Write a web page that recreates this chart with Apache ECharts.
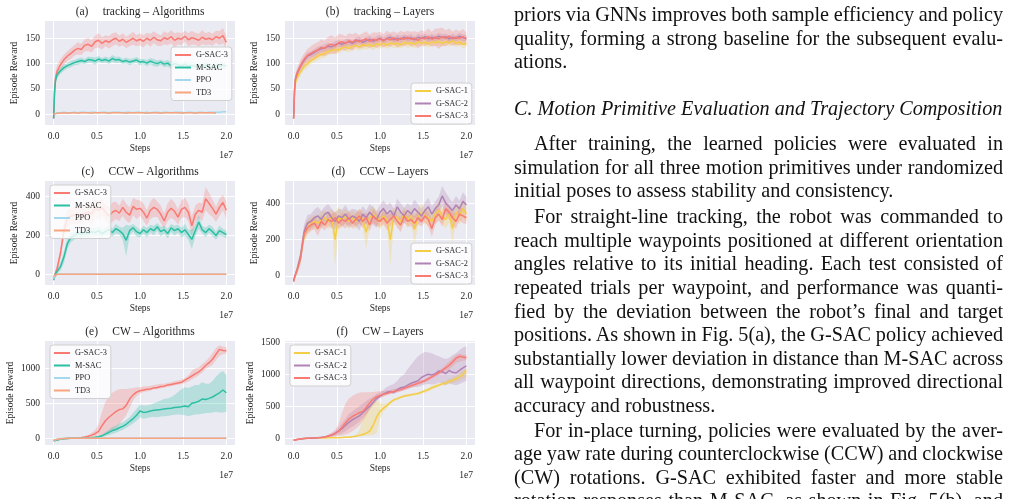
<!DOCTYPE html>
<html>
<head>
<meta charset="utf-8">
<script src="https://cdn.jsdelivr.net/npm/echarts@6.0.0/dist/echarts.min.js"></script>
<style>
  html, body { margin: 0; padding: 0; background: #ffffff; }
  #wrap { position: relative; width: 1011px; height: 499px; overflow: hidden; background: #fff; }
  #chart { position: absolute; left: 0; top: 0; width: 1011px; height: 499px; }
  .ln { position: absolute; left: 514px; width: 489px; height: 24px; line-height: 24px;
        font-family: "Liberation Serif", "Times New Roman", serif; font-size: 20.2px; color: #111;
        overflow: hidden; white-space: normal; }
  .j { text-align: justify; text-align-last: justify; word-spacing: -2.5px; }
  .l { text-align: left; white-space: nowrap; }
  .ind { text-indent: 20px; }
  .it { font-style: italic; }
</style>
</head>
<body>
<div id="wrap">
  <div id="chart"></div>
  <div id="prose"></div>
</div>
<script>
// ---------------- data ----------------
const STEPS = [
  0, 0.01, 0.02, 0.04, 0.08, 0.12, 0.16, 0.20, 0.24, 0.28,
  0.32, 0.36, 0.40, 0.44, 0.48, 0.52, 0.56, 0.60, 0.64, 0.68,
  0.72, 0.76, 0.80, 0.84, 0.88, 0.92, 0.96, 1.00, 1.04, 1.08,
  1.12, 1.16, 1.20, 1.24, 1.28, 1.32, 1.36, 1.40, 1.44, 1.48,
  1.52, 1.56, 1.60, 1.64, 1.68, 1.72, 1.76, 1.80, 1.84, 1.88,
  1.92, 1.96, 2.00];

const X_TICKS = [0, 0.5, 1.0, 1.5, 2.0];
const AB_YTICKS = [0, 50, 100, 150];
const CD_YTICKS = [0, 200, 400];
const E_YTICKS = [0, 500, 1000];
const F_YTICKS = [0, 500, 1000, 1500];

// (a) tracking – Algorithms
const A_GSAC3 = [
  -8, 45, 70, 85, 98, 108, 115, 120, 126, 130,
  128, 136, 138, 134, 143, 146, 140, 145, 142, 147,
  150, 144, 148, 142, 146, 150, 145, 148, 144, 150,
  146, 152, 147, 145, 151, 148, 153, 146, 150, 148,
  154, 147, 151, 149, 146, 152, 148, 150, 147, 153,
  150, 155, 142];
const A_GSAC3_SD = [
  2, 10, 12, 12, 11, 10, 10, 11, 10, 12,
  11, 12, 13, 12, 12, 14, 12, 11, 12, 13,
  12, 11, 12, 11, 12, 13, 11, 12, 12, 11,
  13, 12, 12, 11, 13, 12, 13, 14, 12, 12,
  11, 13, 14, 12, 13, 14, 12, 13, 12, 12,
  14, 15, 12];
const A_MSAC = [
  -8, 40, 65, 78, 86, 92, 96, 99, 102, 104,
  106, 104, 108, 107, 105, 109, 106, 108, 105, 110,
  107, 108, 104, 106, 103, 105, 107, 103, 104, 101,
  105, 102, 100, 103, 99, 101, 96, 100, 98, 96,
  99, 95, 97, 94, 96, 93, 97, 95, 92, 96,
  94, 97, 95];
const A_MSAC_SD = [
  2, 8, 8, 7, 6, 6, 5, 6, 5, 6,
  6, 5, 6, 6, 7, 6, 5, 6, 6, 7,
  6, 6, 5, 6, 6, 5, 6, 6, 5, 6,
  6, 7, 6, 5, 6, 6, 7, 6, 6, 5,
  6, 7, 6, 6, 5, 6, 7, 6, 6, 5,
  6, 7, 6];
const A_PPO = [
  0, 2, 3, 3, 3, 4, 3, 3, 4, 3,
  4, 4, 3, 4, 4, 3, 4, 4, 3, 4,
  4, 4, 3, 4, 4, 3, 4, 4, 3, 4,
  3, 4, 4, 3, 4, 4, 3, 4, 4, 4,
  3, 4, 4, 3, 4, 4, 3, 4, 4, 4,
  4, 5, 5];
const A_TD3 = [
  0, 1, 2, 2, 2, 3, 2, 3, 3, 2,
  3, 3, 3, 2, 3, 3, 3, 3, 2, 3,
  3, 3, 3, 2, 3, 3, 3, 3, 3, 2,
  3, 3, 3, 2, 3, 3, 3, 3, 3, 2,
  3, 3, 3, 2, 3, 3, 3, 3, 3, 2];

// (b) tracking – Layers
const B_GSAC1 = [
  -8, 40, 62, 72, 84, 94, 100, 106, 110, 115,
  118, 120, 124, 126, 128, 127, 131, 133, 130, 134,
  136, 133, 137, 135, 138, 134, 139, 137, 140, 136,
  141, 138, 140, 137, 142, 139, 141, 138, 143, 140,
  142, 139, 143, 141, 144, 140, 143, 141, 145, 140,
  143, 138, 140];
const B_GSAC1_SD = [
  2, 8, 8, 8, 8, 7, 8, 7, 7, 8,
  7, 8, 7, 7, 8, 7, 7, 8, 7, 8,
  7, 7, 8, 7, 7, 8, 7, 8, 7, 7,
  8, 7, 8, 7, 7, 8, 7, 8, 7, 7,
  8, 7, 8, 7, 8, 7, 7, 8, 7, 8,
  7, 8, 7];
const B_GSAC2 = [
  -8, 45, 68, 80, 95, 106, 115, 118, 122, 126,
  129, 131, 134, 133, 137, 140, 138, 141, 143, 140,
  144, 146, 142, 145, 148, 144, 147, 150, 146, 149,
  152, 147, 150, 148, 152, 149, 151, 147, 152, 150,
  153, 149, 152, 150, 154, 151, 153, 149, 152, 150,
  154, 151, 150];
const B_GSAC2_SD = [
  2, 8, 8, 7, 7, 7, 7, 6, 7, 7,
  6, 7, 7, 6, 7, 7, 6, 7, 7, 6,
  7, 7, 6, 7, 7, 6, 7, 7, 6, 7,
  7, 6, 7, 7, 6, 7, 7, 6, 7, 7,
  6, 7, 7, 6, 7, 7, 6, 7, 7, 6,
  7, 7, 6];
const B_GSAC3 = [
  -8, 48, 70, 82, 96, 108, 116, 120, 124, 127,
  132, 130, 136, 138, 135, 141, 143, 140, 145, 142,
  147, 143, 146, 149, 144, 148, 146, 149, 145, 150,
  147, 151, 146, 150, 148, 152, 148, 150, 146, 151,
  149, 153, 148, 152, 149, 153, 150, 154, 149, 152,
  150, 153, 148];
const B_GSAC3_SD = [
  2, 10, 10, 10, 12, 12, 13, 14, 15, 15,
  16, 15, 17, 18, 16, 17, 15, 14, 15, 16,
  14, 13, 14, 15, 13, 14, 15, 14, 13, 15,
  14, 13, 14, 15, 14, 13, 15, 14, 16, 15,
  14, 16, 15, 17, 20, 18, 16, 15, 14, 15,
  14, 15, 13];

// (c) CCW – Algorithms
const C_GSAC3 = [
  -30, -10, 5, 30, 110, 230, 290, 300, 305, 310,
  300, 315, 320, 310, 340, 330, 345, 320, 300, 320,
  330, 315, 345, 320, 305, 350, 335, 340, 320, 290,
  330, 345, 335, 310, 275, 320, 340, 325, 295, 335,
  345, 320, 250, 310, 330, 320, 390, 365, 340, 310,
  345, 370, 330];
const C_GSAC3_SD = [
  5, 10, 15, 20, 30, 40, 45, 40, 45, 50,
  45, 40, 45, 50, 45, 50, 45, 40, 45, 50,
  45, 40, 45, 45, 40, 45, 50, 40, 45, 40,
  45, 50, 40, 45, 40, 45, 50, 45, 40, 45,
  50, 45, 50, 45, 40, 45, 60, 55, 45, 40,
  45, 40, 45];
const C_MSAC = [
  -30, -15, 0, 15, 40, 90, 160, 190, 200, 210,
  205, 215, 210, 220, 215, 225, 210, 220, 230, 215,
  235, 225, 210, 175, 225, 240, 220, 210, 230, 215,
  235, 225, 245, 220, 230, 210, 240, 225, 235, 215,
  230, 205, 180, 225, 270, 230, 215, 235, 220, 200,
  225, 215, 205];
const C_MSAC_SD = [
  5, 8, 10, 12, 20, 30, 30, 25, 20, 20,
  25, 20, 20, 25, 20, 25, 20, 20, 25, 20,
  25, 20, 30, 80, 25, 20, 25, 20, 20, 25,
  20, 25, 20, 25, 20, 25, 20, 25, 20, 25,
  30, 25, 50, 30, 35, 20, 25, 20, 25, 20,
  25, 20, 20];
const C_PPO = [
  -25, -10, -3, 0, 0, 0, 0, 0, 0, 0,
  0, 0, 0, 0, 0, 0, 0, 0, 0, 0,
  0, 0, 0, 0, 0, 0, 0, 0, 0, 0,
  0, 0, 0, 0, 0, 0, 0, 0, 0, 0,
  0, 0, 0, 0, 0, 0, 0, 0, 0, 0,
  0, 0, 0];
const C_TD3 = [
  -10, -3, 0, 0, 0, 0, 0, 0, 0, 0,
  0, 0, 0, 0, 0, 0, 0, 0, 0, 0,
  0, 0, 0, 0, 0, 0, 0, 0, 0, 0,
  0, 0, 0, 0, 0, 0, 0, 0, 0, 0,
  0, 0, 0, 0, 0, 0, 0, 0, 0, 0,
  0, 0, 0];

// (d) CCW – Layers
const D_GSAC1 = [
  -30, -10, 5, 30, 100, 220, 270, 285, 300, 290,
  310, 320, 300, 330, 200, 320, 310, 330, 300, 320,
  300, 330, 310, 240, 320, 340, 320, 300, 330, 310,
  200, 330, 320, 300, 340, 310, 330, 260, 320, 350,
  330, 320, 300, 340, 360, 330, 310, 340, 260, 350,
  330, 370, 340];
const D_GSAC1_SD = [
  5, 10, 15, 20, 30, 40, 40, 40, 35, 40,
  45, 40, 45, 40, 150, 60, 45, 40, 45, 40,
  45, 40, 45, 90, 50, 45, 40, 45, 50, 40,
  140, 50, 40, 45, 40, 45, 40, 80, 45, 50,
  40, 45, 50, 45, 50, 45, 50, 45, 80, 50,
  45, 50, 45];
const D_GSAC2 = [
  -30, -8, 8, 35, 110, 240, 290, 300, 320, 330,
  310, 340, 350, 320, 300, 330, 320, 340, 310, 330,
  320, 300, 340, 320, 350, 330, 310, 350, 370, 340,
  360, 330, 380, 350, 330, 360, 340, 370, 350, 330,
  360, 380, 340, 370, 390, 440, 400, 380, 360, 390,
  370, 410, 390];
const D_GSAC2_SD = [
  5, 10, 15, 20, 30, 40, 45, 40, 45, 50,
  45, 40, 45, 50, 45, 40, 45, 50, 45, 40,
  45, 50, 45, 40, 45, 50, 45, 40, 45, 50,
  45, 40, 45, 50, 45, 40, 45, 50, 45, 40,
  45, 50, 45, 40, 45, 55, 60, 50, 45, 50,
  45, 50, 45];
const D_GSAC3 = [
  -30, -10, 5, 30, 95, 230, 265, 280, 290, 260,
  300, 280, 310, 300, 320, 290, 310, 300, 320, 290,
  310, 330, 300, 320, 280, 330, 310, 300, 320, 290,
  310, 330, 300, 280, 330, 300, 310, 290, 320, 300,
  330, 310, 260, 320, 340, 310, 370, 350, 320, 300,
  340, 330, 320];
const D_GSAC3_SD = [
  5, 10, 15, 20, 30, 35, 35, 30, 35, 40,
  35, 30, 35, 40, 35, 30, 35, 40, 35, 30,
  35, 40, 35, 30, 35, 40, 35, 30, 35, 40,
  35, 30, 35, 40, 35, 30, 35, 40, 35, 30,
  35, 40, 45, 40, 35, 40, 45, 40, 35, 40,
  35, 40, 35];

// (e) CW – Algorithms
const E_GSAC3 = [
  -30, -28, -25, -20, -10, -5, 0, 2, 5, 8,
  12, 18, 30, 45, 65, 100, 180, 250, 300, 340,
  380, 410, 420, 470, 560, 620, 660, 680, 690, 700,
  705, 720, 725, 740, 745, 760, 770, 780, 790, 800,
  830, 860, 890, 920, 950, 990, 1040, 1080, 1130, 1200,
  1270, 1255, 1250];
const E_GSAC3_LO = [
  -30, -28, -25, -20, -12, -7, -2, 0, 2, 4,
  6, 10, 15, 20, 28, 35, 45, 60, 80, 110,
  150, 200, 260, 330, 430, 540, 600, 640, 660, 670,
  680, 700, 700, 715, 720, 735, 745, 755, 765, 775,
  790, 810, 840, 870, 900, 940, 990, 1020, 1050, 1120,
  1180, 1200, 1210];
const E_GSAC3_HI = [
  -30, -28, -25, -18, -8, -3, 2, 4, 8, 12,
  18, 26, 45, 80, 120, 200, 380, 520, 600, 650,
  680, 700, 705, 705, 710, 720, 730, 730, 740, 745,
  750, 760, 770, 780, 780, 790, 800, 815, 825, 840,
  860, 900, 960, 1000, 1010, 1060, 1100, 1150, 1220, 1290,
  1330, 1310, 1300];
const E_MSAC = [
  -40, -35, -30, -25, -15, -8, -3, 0, 2, 3,
  5, 6, 8, 10, 15, 22, 35, 60, 85, 110,
  125, 150, 170, 200, 240, 280, 330, 390, 370, 375,
  390, 400, 405, 410, 420, 425, 430, 440, 445, 450,
  460, 450, 500, 510, 530, 560, 555, 570, 590, 620,
  650, 690, 650];
const E_MSAC_LO = [
  -40, -35, -30, -25, -15, -8, -3, 0, 1, 2,
  3, 4, 5, 6, 8, 12, 20, 30, 45, 60,
  80, 100, 120, 150, 180, 210, 250, 300, 280, 290,
  300, 305, 300, 310, 315, 320, 330, 335, 340, 335,
  330, 320, 330, 340, 345, 350, 360, 360, 370, 380,
  370, 370, 380];
const E_MSAC_HI = [
  -40, -35, -30, -25, -15, -8, -3, 0, 3, 4,
  6, 8, 11, 14, 22, 32, 55, 90, 125, 160,
  180, 210, 230, 260, 300, 360, 420, 480, 470, 470,
  480, 500, 520, 540, 560, 570, 590, 620, 660, 700,
  730, 720, 740, 760, 760, 800, 780, 780, 820, 880,
  930, 960, 900];
const E_PPO = [
  -30, -25, -20, -15, -8, -4, -2, -1, 0, 0,
  0, 0, 0, 0, 0, 0, 0, 0, 0, 0,
  0, 0, 0, 0, 0, 0, 0, 0, 0, 0,
  0, 0, 0, 0, 0, 0, 0, 0, 0, 0,
  0, 0, 0, 0, 0, 0, 0, 0, 0, 0,
  0, 0, 0];
const E_TD3 = [
  -30, -25, -20, -15, -8, -4, -2, -1, 0, 0,
  0, 0, 0, 0, 0, 0, 0, 0, 0, 0,
  0, 0, 0, 0, 0, 0, 0, 0, 0, 0,
  0, 0, 0, 0, 0, 0, 0, 0, 0, 0,
  0, 0, 0, 0, 0, 0, 0, 0, 0, 0,
  0, 0, 0];

// (f) CW – Layers
const F_GSAC1 = [
  -30, -28, -25, -20, -10, -5, 0, 2, 3, 4,
  5, 6, 7, 8, 9, 10, 12, 15, 18, 22,
  30, 45, 60, 80, 110, 200, 330, 420, 470, 510,
  560, 600, 620, 640, 660, 670, 680, 690, 700, 720,
  740, 760, 790, 810, 830, 850, 860, 890, 900, 930,
  960, 1000, 1060];
const F_GSAC1_LO = [
  -30, -28, -25, -20, -10, -5, 0, 2, 3, 4,
  5, 6, 7, 8, 9, 10, 11, 13, 15, 18,
  22, 28, 35, 40, 45, 55, 80, 300, 420, 470,
  530, 580, 600, 620, 640, 650, 660, 670, 680, 700,
  710, 730, 760, 780, 800, 820, 830, 850, 860, 880,
  900, 930, 950];
const F_GSAC1_HI = [
  -30, -28, -25, -20, -10, -5, 0, 2, 3, 4,
  5, 6, 7, 8, 9, 10, 13, 18, 25, 35,
  60, 120, 300, 430, 500, 560, 600, 560, 530, 550,
  590, 620, 640, 660, 680, 690, 700, 710, 720, 745,
  770, 790, 820, 840, 860, 880, 900, 930, 950, 980,
  1020, 1060, 1100];
const F_GSAC2 = [
  -30, -28, -25, -20, -10, -5, 0, 3, 6, 10,
  15, 22, 35, 50, 75, 110, 150, 200, 250, 290,
  320, 350, 400, 450, 500, 560, 620, 660, 690, 720,
  730, 720, 760, 790, 800, 830, 860, 880, 900, 950,
  980, 1000, 990, 1010, 1050, 1040, 1010, 1060, 1030, 1020,
  1060, 1100, 1130];
const F_GSAC2_LO = [
  -30, -28, -25, -20, -10, -5, 0, 2, 4, 6,
  9, 14, 20, 28, 40, 55, 80, 110, 150, 180,
  220, 260, 320, 380, 440, 510, 580, 630, 660, 690,
  700, 690, 720, 740, 750, 770, 790, 800, 800, 820,
  840, 850, 840, 850, 870, 860, 830, 860, 840, 830,
  850, 870, 900];
const F_GSAC2_HI = [
  -30, -28, -25, -20, -10, -5, 0, 4, 8, 14,
  22, 30, 50, 75, 110, 170, 240, 300, 380, 420,
  460, 500, 540, 580, 620, 650, 690, 720, 760, 800,
  830, 850, 900, 960, 1000, 1080, 1150, 1220, 1280, 1320,
  1350, 1340, 1330, 1300, 1280, 1260, 1240, 1260, 1300, 1330,
  1380, 1420, 1440];
const F_GSAC3 = [
  -30, -28, -25, -20, -10, -5, 0, 2, 5, 8,
  12, 20, 32, 50, 75, 110, 170, 240, 300, 340,
  370, 400, 420, 480, 550, 610, 650, 670, 690, 700,
  720, 730, 745, 760, 780, 800, 820, 840, 860, 880,
  900, 930, 960, 990, 1020, 1060, 1100, 1140, 1190, 1250,
  1280, 1270, 1260];
const F_GSAC3_LO = [
  -30, -28, -25, -20, -12, -7, -2, 0, 2, 4,
  6, 10, 15, 20, 28, 35, 45, 60, 80, 110,
  150, 200, 270, 350, 450, 540, 600, 630, 650, 670,
  690, 700, 715, 730, 750, 770, 790, 810, 830, 850,
  870, 900, 930, 960, 990, 1020, 1050, 1080, 1120, 1180,
  1200, 1210, 1220];
const F_GSAC3_HI = [
  -30, -28, -25, -18, -8, -3, 2, 4, 8, 12,
  18, 30, 50, 85, 130, 220, 400, 540, 620, 660,
  690, 710, 720, 720, 720, 725, 730, 735, 740, 750,
  760, 770, 780, 800, 810, 830, 850, 870, 890, 910,
  930, 960, 990, 1020, 1060, 1100, 1150, 1200, 1250, 1300,
  1320, 1310, 1300];

const PROSE = [
  { t: 'priors via GNNs improves both sample efficiency and policy', y: 14, c: 'j' },
  { t: 'quality, forming a strong baseline for the subsequent evalu-', y: 38, c: 'j' },
  { t: 'ations.', y: 61, c: 'l' },
  { t: 'C.  Motion Primitive Evaluation and Trajectory Composition', y: 108, c: 'l it' },
  { t: 'After training, the learned policies were evaluated in', y: 143, c: 'j ind' },
  { t: 'simulation for all three motion primitives under randomized', y: 167, c: 'j' },
  { t: 'initial poses to assess stability and consistency.', y: 190, c: 'l' },
  { t: 'For straight-line tracking, the robot was commanded to', y: 216, c: 'j ind' },
  { t: 'reach multiple waypoints positioned at different orientation', y: 240, c: 'j' },
  { t: 'angles relative to its initial heading. Each test consisted of', y: 263, c: 'j' },
  { t: 'repeated trials per waypoint, and performance was quanti-', y: 287, c: 'j' },
  { t: 'fied by the deviation between the robot\u2019s final and target', y: 311, c: 'j' },
  { t: 'positions. As shown in Fig. 5(a), the G-SAC policy achieved', y: 334, c: 'j' },
  { t: 'substantially lower deviation in distance than M-SAC across', y: 358, c: 'j' },
  { t: 'all waypoint directions, demonstrating improved directional', y: 381, c: 'j' },
  { t: 'accuracy and robustness.', y: 405, c: 'l' },
  { t: 'For in-place turning, policies were evaluated by the aver-', y: 430, c: 'j ind' },
  { t: 'age yaw rate during counterclockwise (CCW) and clockwise', y: 453, c: 'j' },
  { t: '(CW) rotations. G-SAC exhibited faster and more stable', y: 477, c: 'j' },
  { t: 'rotation responses than M-SAC, as shown in Fig. 5(b), and', y: 500, c: 'j' }
];

// ---------------- styling ----------------
const FONT = '"Liberation Serif", "Times New Roman", serif';
const INK = '#262626';
const COL = {
  'G-SAC-3': '#f87a73',
  'M-SAC': '#2bbfa4',
  'PPO': '#a5d8ec',
  'TD3': '#f7a47f',
  'G-SAC-1': '#f3cd45',
  'G-SAC-2': '#b183b5'
};

function pairs(ys) {
  const out = [];
  for (let i = 0; i < ys.length && i < STEPS.length; i++) out.push([STEPS[i], ys[i]]);
  return out;
}
function lineSeries(name, g, ys) {
  return {
    type: 'line', name: name, xAxisIndex: g, yAxisIndex: g, data: pairs(ys),
    symbol: 'none', showSymbol: false, silent: true, animation: false,
    lineStyle: { color: COL[name], width: 1.5 }, itemStyle: { color: COL[name] }, z: 2
  };
}
function bandSeries(name, g, lo, hi, op) {
  return {
    type: 'custom', name: name + ' band', xAxisIndex: g, yAxisIndex: g,
    data: [[STEPS[0], lo[0]]], silent: true, animation: false, z: 2, clip: true,
    renderItem: function (params, api) {
      const pts = [];
      const n = Math.min(lo.length, hi.length, STEPS.length);
      for (let i = 0; i < n; i++) pts.push(api.coord([STEPS[i], hi[i]]));
      for (let i = n - 1; i >= 0; i--) pts.push(api.coord([STEPS[i], lo[i]]));
      return { type: 'polygon', shape: { points: pts }, style: { fill: COL[name], opacity: op == null ? 0.28 : op } };
    }
  };
}
function sdBand(name, g, mean, sd, op) {
  const lo = mean.map(function (m, i) { return m - sd[i]; });
  const hi = mean.map(function (m, i) { return m + sd[i]; });
  return bandSeries(name, g, lo, hi, op);
}

const PANELS = [
  { title: '(a)     tracking \u2013 Algorithms', left: 45, top: 21, ymin: -21, ymax: 184, ticks: AB_YTICKS, ygap: 26,
    legend: { names: ['G-SAC-3', 'M-SAC', 'PPO', 'TD3'], left: 171, top: 47 } },
  { title: '(b)     tracking \u2013 Layers', left: 285, top: 21, ymin: -21, ymax: 184, ticks: AB_YTICKS, ygap: 26,
    legend: { names: ['G-SAC-1', 'G-SAC-2', 'G-SAC-3'], left: 411, top: 83 } },
  { title: '(c)     CCW \u2013 Algorithms', left: 45, top: 181, ymin: -55, ymax: 481, ticks: CD_YTICKS, ygap: 26,
    legend: { names: ['G-SAC-3', 'M-SAC', 'PPO', 'TD3'], left: 50, top: 185 } },
  { title: '(d)     CCW \u2013 Layers', left: 285, top: 181, ymin: -50, ymax: 522, ticks: CD_YTICKS, ygap: 26,
    legend: { names: ['G-SAC-1', 'G-SAC-2', 'G-SAC-3'], left: 411, top: 243 } },
  { title: '(e)     CW \u2013 Algorithms', left: 45, top: 341, ymin: -96, ymax: 1390, ticks: E_YTICKS, ygap: 30,
    legend: { names: ['G-SAC-3', 'M-SAC', 'PPO', 'TD3'], left: 50, top: 345 } },
  { title: '(f)     CW \u2013 Layers', left: 285, top: 341, ymin: -105, ymax: 1520, ticks: F_YTICKS, ygap: 30,
    legend: { names: ['G-SAC-1', 'G-SAC-2', 'G-SAC-3'], left: 290, top: 345 } }
];
const GW = 190, GH = 104;

const grids = [], xAxes = [], yAxes = [], legends = [], graphics = [];
PANELS.forEach(function (p, g) {
  grids.push({ left: p.left, top: p.top, width: GW, height: GH, show: true,
    backgroundColor: '#eaeaf2', borderWidth: 0, containLabel: false, outerBoundsMode: 'none' });
  xAxes.push({
    type: 'value', gridIndex: g, min: -0.1, max: 2.1,
    axisLine: { show: false }, axisTick: { show: false, customValues: X_TICKS },
    axisLabel: { customValues: X_TICKS, formatter: function (v) { return v.toFixed(1); },
      fontSize: 9.5, color: INK, fontFamily: FONT, margin: 6 },
    splitLine: { show: true, lineStyle: { color: '#ffffff', width: 1 } },
    name: 'Steps', nameLocation: 'middle', nameGap: 18, nameMoveOverlap: false,
    nameTextStyle: { fontSize: 9.5, color: INK, fontFamily: FONT }
  });
  yAxes.push({
    type: 'value', gridIndex: g, min: p.ymin, max: p.ymax,
    axisLine: { show: false }, axisTick: { show: false, customValues: p.ticks },
    axisLabel: { customValues: p.ticks, formatter: function (v) { return String(Math.round(v)); },
      fontSize: 9.5, color: INK, fontFamily: FONT, margin: 5 },
    splitLine: { show: true, lineStyle: { color: '#ffffff', width: 1 } },
    name: 'Episode Reward', nameLocation: 'middle', nameGap: p.ygap, nameMoveOverlap: false,
    nameTextStyle: { fontSize: 9.5, color: INK, fontFamily: FONT }
  });
  legends.push({
    data: p.legend.names, left: p.legend.left, top: p.legend.top, orient: 'vertical',
    icon: 'rect', itemWidth: 16, itemHeight: 2, itemGap: 2.5, selectedMode: false,
    backgroundColor: 'rgba(255,255,255,0.8)', borderColor: '#d0d0d0', borderWidth: 1, borderRadius: 3,
    padding: [3, 4, 3, 4],
    textStyle: { fontSize: 8.3, fontFamily: FONT, color: INK, lineHeight: 10 }
  });
  graphics.push({ type: 'text', x: p.left + GW / 2, y: p.top - 9.5,
    style: { text: p.title, fill: INK, font: '11.5px ' + FONT, align: 'center', verticalAlign: 'middle' } });
  graphics.push({ type: 'text', x: p.left + GW - 2, y: p.top + GH + 30.5,
    style: { text: '1e7', fill: INK, font: '9.5px ' + FONT, align: 'right', verticalAlign: 'middle' } });
});

const series = [
  // (a)
  sdBand('G-SAC-3', 0, A_GSAC3, A_GSAC3_SD), lineSeries('G-SAC-3', 0, A_GSAC3),
  sdBand('M-SAC', 0, A_MSAC, A_MSAC_SD), lineSeries('M-SAC', 0, A_MSAC),
  lineSeries('PPO', 0, A_PPO), lineSeries('TD3', 0, A_TD3),
  // (b)
  sdBand('G-SAC-1', 1, B_GSAC1, B_GSAC1_SD), lineSeries('G-SAC-1', 1, B_GSAC1),
  sdBand('G-SAC-2', 1, B_GSAC2, B_GSAC2_SD), lineSeries('G-SAC-2', 1, B_GSAC2),
  sdBand('G-SAC-3', 1, B_GSAC3, B_GSAC3_SD), lineSeries('G-SAC-3', 1, B_GSAC3),
  // (c)
  sdBand('G-SAC-3', 2, C_GSAC3, C_GSAC3_SD), lineSeries('G-SAC-3', 2, C_GSAC3),
  sdBand('M-SAC', 2, C_MSAC, C_MSAC_SD), lineSeries('M-SAC', 2, C_MSAC),
  lineSeries('PPO', 2, C_PPO), lineSeries('TD3', 2, C_TD3),
  // (d)
  sdBand('G-SAC-1', 3, D_GSAC1, D_GSAC1_SD), lineSeries('G-SAC-1', 3, D_GSAC1),
  sdBand('G-SAC-2', 3, D_GSAC2, D_GSAC2_SD), lineSeries('G-SAC-2', 3, D_GSAC2),
  sdBand('G-SAC-3', 3, D_GSAC3, D_GSAC3_SD), lineSeries('G-SAC-3', 3, D_GSAC3),
  // (e)
  bandSeries('G-SAC-3', 4, E_GSAC3_LO, E_GSAC3_HI), lineSeries('G-SAC-3', 4, E_GSAC3),
  bandSeries('M-SAC', 4, E_MSAC_LO, E_MSAC_HI), lineSeries('M-SAC', 4, E_MSAC),
  lineSeries('PPO', 4, E_PPO), lineSeries('TD3', 4, E_TD3),
  // (f)
  bandSeries('G-SAC-1', 5, F_GSAC1_LO, F_GSAC1_HI), lineSeries('G-SAC-1', 5, F_GSAC1),
  bandSeries('G-SAC-2', 5, F_GSAC2_LO, F_GSAC2_HI), lineSeries('G-SAC-2', 5, F_GSAC2),
  bandSeries('G-SAC-3', 5, F_GSAC3_LO, F_GSAC3_HI), lineSeries('G-SAC-3', 5, F_GSAC3)
];

const chart = echarts.init(document.getElementById('chart'), null, { renderer: 'canvas' });
chart.setOption({
  animation: false,
  backgroundColor: '#ffffff',
  textStyle: { fontFamily: FONT },
  grid: grids, xAxis: xAxes, yAxis: yAxes, legend: legends,
  graphic: { elements: graphics },
  series: series
});

// ---------------- prose column ----------------
const prose = document.getElementById('prose');
PROSE.forEach(function (l) {
  const d = document.createElement('div');
  d.className = 'ln ' + l.c;
  d.style.top = (l.y - 12.5) + 'px';
  d.textContent = l.t;
  prose.appendChild(d);
});
</script>
</body>
</html>
